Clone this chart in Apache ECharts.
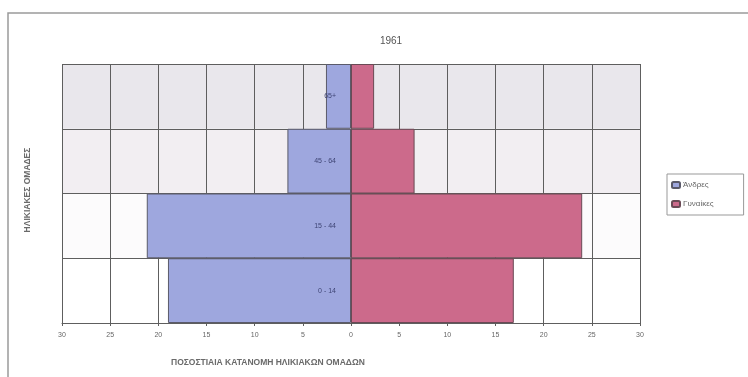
<!DOCTYPE html>
<html>
<head>
<meta charset="utf-8">
<script src="https://cdn.jsdelivr.net/npm/echarts@6/dist/echarts.min.js"></script>
<style>html,body{margin:0;padding:0;background:#fff}#c{width:748px;height:377px}</style>
</head>
<body>
<div id="c"></div>
<script>
var categories = ['0 - 14', '15 - 44', '45 - 64', '65+'];
var men = [19.0, 21.2, 6.6, 2.6];
var women = [16.9, 24.0, 6.6, 2.4];
var seriesNames = ['Άνδρες', 'Γυναίκες'];
var chartTitle = '1961';
var xTitle = 'ΠΟΣΟΣΤΙΑΙΑ ΚΑΤΑΝΟΜΗ ΗΛΙΚΙΑΚΩΝ ΟΜΑΔΩΝ';
var yTitle = 'ΗΛΙΚΙΑΚΕΣ ΟΜΑΔΕΣ';

var chart = echarts.init(document.getElementById('c'));
var font = 'Liberation Sans, Arial, sans-serif';
chart.setOption({
  animation: false,
  textStyle: {fontFamily: font},
  title: {text: chartTitle, left: 386, top: 31, textAlign: 'center',
    textStyle: {fontSize: 10, fontWeight: 'normal', color: '#555', fontFamily: font}},
  legend: {
    orient: 'vertical', left: 667, top: 174, itemWidth: 8, itemHeight: 6, itemGap: 11,
    padding: [7, 30, 7, 4], borderColor: '#999', borderWidth: 1,
    textStyle: {fontSize: 8, color: '#666', padding: [0, 0, 0, -2]},
    data: seriesNames
  },
  grid: {left: 62, right: 108, top: 64, bottom: 54, containLabel: false},
  xAxis: {
    type: 'value', min: -30, max: 30, interval: 5,
    axisLine: {show: true, onZero: false, lineStyle: {color: '#5e5e5e'}},
    axisTick: {show: true, length: 3, lineStyle: {color: '#5e5e5e'}},
    axisLabel: {fontSize: 7, color: '#666', margin: 9, formatter: function (v) { return Math.abs(v); }},
    splitLine: {show: true, lineStyle: {color: '#5e5e5e', width: 1}},
    z: 3
  },
  yAxis: [{
    type: 'category', data: categories,
    position: 'left',
    axisLine: {show: false, onZero: false},
    axisTick: {show: false},
    axisLabel: {show: false},
    splitLine: {show: true, lineStyle: {color: '#5e5e5e', width: 1}},
    splitArea: {show: true, areaStyle: {color: ['#ffffff', '#fcfbfc', '#f2eef2', '#e9e7ec']}}
  }, {
    type: 'category', data: categories,
    position: 'left', offset: -289, z: 20,
    axisLine: {show: false, onZero: false},
    axisTick: {show: false},
    axisLabel: {fontSize: 7, color: '#3f4575', margin: 15},
    splitLine: {show: false},
    splitArea: {show: false}
  }],
  series: [
    {name: seriesNames[0], type: 'bar', stack: 'p', barWidth: '100%', z: 4, yAxisIndex: 0,
      data: men.map(function (v) { return -v; }),
      itemStyle: {color: '#9ea7de', borderColor: '#5a5a6a', borderWidth: 1}},
    {name: seriesNames[1], type: 'bar', stack: 'p', barWidth: '100%', z: 4, yAxisIndex: 0,
      data: women,
      itemStyle: {color: '#cc6a8b', borderColor: '#6a4a55', borderWidth: 1}}
  ],
  graphic: [
    {type: 'rect', shape: {x: 8, y: 13, width: 800, height: 400}, silent: true,
      style: {fill: 'none', stroke: '#9a9a9a', lineWidth: 1.5}},
    {type: 'text', left: 171, top: 358,
      style: {text: xTitle, fontSize: 8.5, fontWeight: 'bold', fill: '#6a6a6a', fontFamily: font}},
    {type: 'text', x: 28, y: 190, rotation: Math.PI / 2,
      style: {text: yTitle, fontSize: 8.5, fontWeight: 'bold', fill: '#6a6a6a', fontFamily: font,
        textAlign: 'center', textVerticalAlign: 'middle'}}
  ]
});
</script>
</body>
</html>
